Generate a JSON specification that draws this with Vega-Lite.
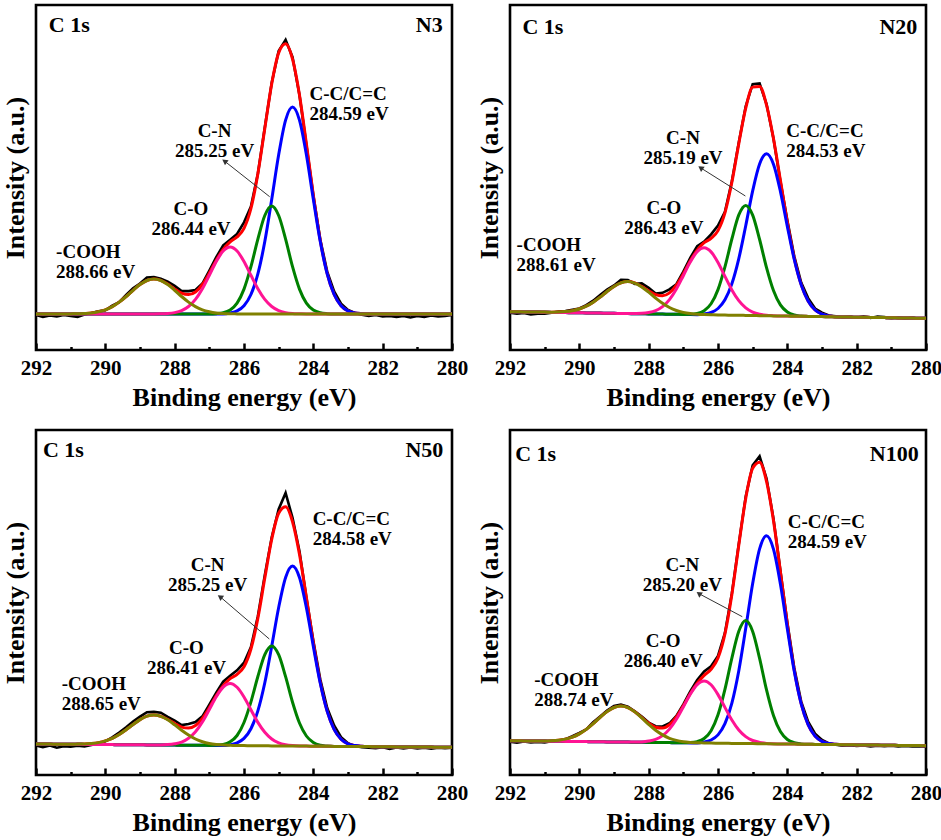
{
  "$schema": "https://vega.github.io/schema/vega-lite/v6.json",
  "padding": {"left": 0, "top": 2, "right": 2, "bottom": 2},
  "background": "white",
  "data": {
    "values": [
      {"p":"N3","e":292,"raw":35,"fit":36,"cc":36,"cn":36,"co":36,"ch":36},
      {"p":"N3","e":291.8,"raw":33,"fit":36,"cc":36,"cn":36,"co":36,"ch":36},
      {"p":"N3","e":291.6,"raw":34.5,"fit":36,"cc":36,"cn":36,"co":36,"ch":36},
      {"p":"N3","e":291.4,"raw":33.5,"fit":36,"cc":36,"cn":36,"co":36,"ch":36},
      {"p":"N3","e":291.2,"raw":35,"fit":36,"cc":36,"cn":36,"co":36,"ch":36},
      {"p":"N3","e":291,"raw":34.1,"fit":36.1,"cc":36,"cn":36,"co":36,"ch":36.1},
      {"p":"N3","e":290.8,"raw":33.2,"fit":36.2,"cc":36,"cn":36,"co":36,"ch":36.2},
      {"p":"N3","e":290.6,"raw":35.5,"fit":36.5,"cc":36,"cn":36,"co":36,"ch":36.5},
      {"p":"N3","e":290.4,"raw":37,"fit":37,"cc":36,"cn":36,"co":36,"ch":37},
      {"p":"N3","e":290.2,"raw":38.7,"fit":38.2,"cc":36,"cn":36,"co":36,"ch":38.2},
      {"p":"N3","e":290,"raw":39.7,"fit":40.2,"cc":36,"cn":36,"co":36,"ch":40.2},
      {"p":"N3","e":289.8,"raw":44.4,"fit":43.4,"cc":36,"cn":36,"co":36,"ch":43.4},
      {"p":"N3","e":289.6,"raw":47.9,"fit":47.9,"cc":36,"cn":36,"co":36,"ch":47.9},
      {"p":"N3","e":289.4,"raw":55,"fit":53.5,"cc":36,"cn":36,"co":36,"ch":53.5},
      {"p":"N3","e":289.2,"raw":61.7,"fit":59.7,"cc":36,"cn":36,"co":36,"ch":59.7},
      {"p":"N3","e":289,"raw":66.4,"fit":65.4,"cc":36,"cn":36,"co":36,"ch":65.4},
      {"p":"N3","e":288.8,"raw":72.5,"fit":69.5,"cc":36,"cn":36,"co":36,"ch":69.5},
      {"p":"N3","e":288.6,"raw":73,"fit":71,"cc":36,"cn":36,"co":36,"ch":71},
      {"p":"N3","e":288.4,"raw":71.2,"fit":69.7,"cc":36,"cn":36,"co":36.2,"ch":69.5},
      {"p":"N3","e":288.2,"raw":68.4,"fit":65.9,"cc":36,"cn":36,"co":36.5,"ch":65.4},
      {"p":"N3","e":288,"raw":64.1,"fit":61.1,"cc":36,"cn":36,"co":37.4,"ch":59.7},
      {"p":"N3","e":287.8,"raw":58.9,"fit":56.9,"cc":36,"cn":36,"co":39.4,"ch":53.5},
      {"p":"N3","e":287.6,"raw":58.9,"fit":55.4,"cc":36,"cn":36,"co":43.5,"ch":47.9},
      {"p":"N3","e":287.4,"raw":60,"fit":58,"cc":36,"cn":36,"co":50.6,"ch":43.4},
      {"p":"N3","e":287.2,"raw":66.5,"fit":65.5,"cc":36,"cn":36,"co":61.3,"ch":40.2},
      {"p":"N3","e":287,"raw":79.4,"fit":76.9,"cc":36,"cn":36,"co":74.7,"ch":38.2},
      {"p":"N3","e":286.8,"raw":92.8,"fit":89.8,"cc":36,"cn":36.3,"co":88.5,"ch":37},
      {"p":"N3","e":286.6,"raw":104.7,"fit":100.7,"cc":36,"cn":37.2,"co":99,"ch":36.5},
      {"p":"N3","e":286.4,"raw":110.2,"fit":108.2,"cc":37,"cn":40,"co":103,"ch":36.2},
      {"p":"N3","e":286.2,"raw":116.1,"fit":113.1,"cc":39.1,"cn":46.9,"co":99,"ch":36.1},
      {"p":"N3","e":286,"raw":127.7,"fit":121.7,"cc":44.3,"cn":60.9,"co":88.5,"ch":36},
      {"p":"N3","e":285.8,"raw":143.5,"fit":141.5,"cc":55.5,"cn":83.3,"co":74.7,"ch":36},
      {"p":"N3","e":285.6,"raw":176.3,"fit":176.3,"cc":76.1,"cn":110.9,"co":61.3,"ch":36},
      {"p":"N3","e":285.4,"raw":222.5,"fit":221.5,"cc":108.4,"cn":134.5,"co":50.6,"ch":36},
      {"p":"N3","e":285.2,"raw":267.2,"fit":266.2,"cc":150.7,"cn":144,"co":43.5,"ch":36},
      {"p":"N3","e":285,"raw":299.1,"fit":297.1,"cc":195.2,"cn":134.5,"co":39.4,"ch":36},
      {"p":"N3","e":284.8,"raw":310.2,"fit":306.2,"cc":229.9,"cn":110.9,"co":37.4,"ch":36},
      {"p":"N3","e":284.6,"raw":292.8,"fit":290.8,"cc":243,"cn":83.3,"co":36.5,"ch":36},
      {"p":"N3","e":284.4,"raw":255,"fit":255,"cc":229.9,"cn":60.9,"co":36.2,"ch":36},
      {"p":"N3","e":284.2,"raw":205.1,"fit":206.1,"cc":195.2,"cn":46.9,"co":36,"ch":36},
      {"p":"N3","e":284,"raw":154.7,"fit":154.7,"cc":150.7,"cn":40,"co":36,"ch":36},
      {"p":"N3","e":283.8,"raw":110.6,"fit":109.6,"cc":108.4,"cn":37.2,"co":36,"ch":36},
      {"p":"N3","e":283.6,"raw":78.4,"fit":76.4,"cc":76.1,"cn":36.3,"co":36,"ch":36},
      {"p":"N3","e":283.4,"raw":58.5,"fit":55.5,"cc":55.5,"cn":36,"co":36,"ch":36},
      {"p":"N3","e":283.2,"raw":46.3,"fit":44.3,"cc":44.3,"cn":36,"co":36,"ch":36},
      {"p":"N3","e":283,"raw":40.1,"fit":39.1,"cc":39.1,"cn":36,"co":36,"ch":36},
      {"p":"N3","e":282.8,"raw":37,"fit":37,"cc":37,"cn":36,"co":36,"ch":36},
      {"p":"N3","e":282.6,"raw":35.3,"fit":36.3,"cc":36.3,"cn":36,"co":36,"ch":36},
      {"p":"N3","e":282.4,"raw":34,"fit":36,"cc":36,"cn":36,"co":36,"ch":36},
      {"p":"N3","e":282.2,"raw":35,"fit":36,"cc":36,"cn":36,"co":36,"ch":36},
      {"p":"N3","e":282,"raw":33.5,"fit":36,"cc":36,"cn":36,"co":36,"ch":36},
      {"p":"N3","e":281.8,"raw":34,"fit":36,"cc":36,"cn":36,"co":36,"ch":36},
      {"p":"N3","e":281.6,"raw":33,"fit":36,"cc":36,"cn":36,"co":36,"ch":36},
      {"p":"N3","e":281.4,"raw":34,"fit":36,"cc":36,"cn":36,"co":36,"ch":36},
      {"p":"N3","e":281.2,"raw":32.5,"fit":36,"cc":36,"cn":36,"co":36,"ch":36},
      {"p":"N3","e":281,"raw":34,"fit":36,"cc":36,"cn":36,"co":36,"ch":36},
      {"p":"N3","e":280.8,"raw":33,"fit":36,"cc":36,"cn":36,"co":36,"ch":36},
      {"p":"N3","e":280.6,"raw":34.5,"fit":36,"cc":36,"cn":36,"co":36,"ch":36},
      {"p":"N3","e":280.4,"raw":33.5,"fit":36,"cc":36,"cn":36,"co":36,"ch":36},
      {"p":"N3","e":280.2,"raw":34,"fit":36,"cc":36,"cn":36,"co":36,"ch":36},
      {"p":"N3","e":280,"raw":35,"fit":36,"cc":36,"cn":36,"co":36,"ch":36},

      {"p":"N20","e":292,"raw":37.3,"fit":38.3,"cc":38.3,"cn":38.3,"co":38.3,"ch":38.3},
      {"p":"N20","e":291.8,"raw":36.2,"fit":38.2,"cc":38.2,"cn":38.2,"co":38.2,"ch":38.2},
      {"p":"N20","e":291.6,"raw":37.1,"fit":38.1,"cc":38.1,"cn":38.1,"co":38.1,"ch":38.1},
      {"p":"N20","e":291.4,"raw":35.5,"fit":38,"cc":38,"cn":38,"co":38,"ch":38},
      {"p":"N20","e":291.2,"raw":36.4,"fit":37.9,"cc":37.9,"cn":37.9,"co":37.9,"ch":37.9},
      {"p":"N20","e":291,"raw":36.4,"fit":37.9,"cc":37.8,"cn":37.8,"co":37.8,"ch":37.9},
      {"p":"N20","e":290.8,"raw":37.3,"fit":37.8,"cc":37.6,"cn":37.6,"co":37.6,"ch":37.8},
      {"p":"N20","e":290.6,"raw":38.4,"fit":37.9,"cc":37.5,"cn":37.5,"co":37.5,"ch":37.9},
      {"p":"N20","e":290.4,"raw":38.9,"fit":38.4,"cc":37.4,"cn":37.4,"co":37.4,"ch":38.4},
      {"p":"N20","e":290.2,"raw":40.3,"fit":39.3,"cc":37.3,"cn":37.3,"co":37.3,"ch":39.3},
      {"p":"N20","e":290,"raw":41.5,"fit":41,"cc":37.2,"cn":37.2,"co":37.2,"ch":41},
      {"p":"N20","e":289.8,"raw":44.8,"fit":43.8,"cc":37.1,"cn":37.1,"co":37.1,"ch":43.8},
      {"p":"N20","e":289.6,"raw":49.3,"fit":47.8,"cc":37,"cn":37,"co":37,"ch":47.8},
      {"p":"N20","e":289.4,"raw":54.9,"fit":52.9,"cc":36.9,"cn":36.9,"co":36.9,"ch":52.9},
      {"p":"N20","e":289.2,"raw":60.5,"fit":58.5,"cc":36.8,"cn":36.8,"co":36.8,"ch":58.5},
      {"p":"N20","e":289,"raw":64.6,"fit":63.6,"cc":36.7,"cn":36.7,"co":36.7,"ch":63.6},
      {"p":"N20","e":288.8,"raw":70.1,"fit":67.1,"cc":36.5,"cn":36.5,"co":36.5,"ch":67.1},
      {"p":"N20","e":288.6,"raw":69.9,"fit":68.4,"cc":36.4,"cn":36.4,"co":36.4,"ch":68.4},
      {"p":"N20","e":288.4,"raw":66.1,"fit":67.1,"cc":36.3,"cn":36.3,"co":36.5,"ch":66.9},
      {"p":"N20","e":288.2,"raw":66.6,"fit":63.6,"cc":36.2,"cn":36.2,"co":36.7,"ch":63.1},
      {"p":"N20","e":288,"raw":62.2,"fit":59.2,"cc":36.1,"cn":36.1,"co":37.5,"ch":57.8},
      {"p":"N20","e":287.8,"raw":56.4,"fit":55.4,"cc":36,"cn":36,"co":39.4,"ch":52},
      {"p":"N20","e":287.6,"raw":57.2,"fit":54.2,"cc":35.9,"cn":35.9,"co":43.4,"ch":46.7},
      {"p":"N20","e":287.4,"raw":60.6,"fit":57.1,"cc":35.8,"cn":35.8,"co":50.4,"ch":42.5},
      {"p":"N20","e":287.2,"raw":65.8,"fit":64.8,"cc":35.7,"cn":35.7,"co":61,"ch":39.5},
      {"p":"N20","e":287,"raw":78.3,"fit":76.3,"cc":35.6,"cn":35.6,"co":74.3,"ch":37.6},
      {"p":"N20","e":286.8,"raw":92.2,"fit":89.2,"cc":35.4,"cn":35.7,"co":87.9,"ch":36.4},
      {"p":"N20","e":286.6,"raw":103.9,"fit":99.9,"cc":35.3,"cn":36.5,"co":98.3,"ch":35.7},
      {"p":"N20","e":286.4,"raw":108.3,"fit":107.3,"cc":36,"cn":39.3,"co":102.2,"ch":35.4},
      {"p":"N20","e":286.2,"raw":115.7,"fit":111.7,"cc":37.5,"cn":46.2,"co":98.1,"ch":35.2},
      {"p":"N20","e":286,"raw":124.4,"fit":119.4,"cc":41.5,"cn":60.4,"co":87.5,"ch":35},
      {"p":"N20","e":285.8,"raw":138.1,"fit":137.1,"cc":50.2,"cn":83.1,"co":73.6,"ch":34.9},
      {"p":"N20","e":285.6,"raw":168.7,"fit":167.7,"cc":66.2,"cn":111,"co":60.1,"ch":34.8},
      {"p":"N20","e":285.4,"raw":207.4,"fit":206.4,"cc":91.4,"cn":135.1,"co":49.3,"ch":34.7},
      {"p":"N20","e":285.2,"raw":243.8,"fit":241.8,"cc":124.3,"cn":144.6,"co":42.1,"ch":34.6},
      {"p":"N20","e":285,"raw":265.9,"fit":262.9,"cc":159.1,"cn":134.9,"co":37.9,"ch":34.5},
      {"p":"N20","e":284.8,"raw":266.6,"fit":263.6,"cc":186,"cn":110.5,"co":35.7,"ch":34.3},
      {"p":"N20","e":284.6,"raw":245.9,"fit":244.9,"cc":196.2,"cn":82.4,"co":34.7,"ch":34.2},
      {"p":"N20","e":284.4,"raw":211.4,"fit":211.4,"cc":185.8,"cn":59.5,"co":34.3,"ch":34.1},
      {"p":"N20","e":284.2,"raw":168.7,"fit":169.7,"cc":158.6,"cn":45.1,"co":34,"ch":34},
      {"p":"N20","e":284,"raw":129.7,"fit":127.7,"cc":123.6,"cn":38,"co":33.9,"ch":33.9},
      {"p":"N20","e":283.8,"raw":93.7,"fit":91.7,"cc":90.5,"cn":35,"co":33.8,"ch":33.8},
      {"p":"N20","e":283.6,"raw":67.4,"fit":65.4,"cc":65.1,"cn":34,"co":33.7,"ch":33.7},
      {"p":"N20","e":283.4,"raw":51.9,"fit":48.9,"cc":48.9,"cn":33.6,"co":33.6,"ch":33.6},
      {"p":"N20","e":283.2,"raw":41.5,"fit":40,"cc":40,"cn":33.5,"co":33.5,"ch":33.5},
      {"p":"N20","e":283,"raw":37.3,"fit":35.8,"cc":35.8,"cn":33.4,"co":33.4,"ch":33.4},
      {"p":"N20","e":282.8,"raw":34.5,"fit":34,"cc":34,"cn":33.2,"co":33.2,"ch":33.2},
      {"p":"N20","e":282.6,"raw":33.8,"fit":33.3,"cc":33.3,"cn":33.1,"co":33.1,"ch":33.1},
      {"p":"N20","e":282.4,"raw":32.5,"fit":33,"cc":33,"cn":33,"co":33,"ch":33},
      {"p":"N20","e":282.2,"raw":33.4,"fit":32.9,"cc":32.9,"cn":32.9,"co":32.9,"ch":32.9},
      {"p":"N20","e":282,"raw":32.3,"fit":32.8,"cc":32.8,"cn":32.8,"co":32.8,"ch":32.8},
      {"p":"N20","e":281.8,"raw":33.7,"fit":32.7,"cc":32.7,"cn":32.7,"co":32.7,"ch":32.7},
      {"p":"N20","e":281.6,"raw":32.1,"fit":32.6,"cc":32.6,"cn":32.6,"co":32.6,"ch":32.6},
      {"p":"N20","e":281.4,"raw":33.5,"fit":32.5,"cc":32.5,"cn":32.5,"co":32.5,"ch":32.5},
      {"p":"N20","e":281.2,"raw":32.9,"fit":32.4,"cc":32.4,"cn":32.4,"co":32.4,"ch":32.4},
      {"p":"N20","e":281,"raw":31.8,"fit":32.3,"cc":32.3,"cn":32.3,"co":32.3,"ch":32.3},
      {"p":"N20","e":280.8,"raw":32.6,"fit":32.1,"cc":32.1,"cn":32.1,"co":32.1,"ch":32.1},
      {"p":"N20","e":280.6,"raw":31.5,"fit":32,"cc":32,"cn":32,"co":32,"ch":32},
      {"p":"N20","e":280.4,"raw":32.4,"fit":31.9,"cc":31.9,"cn":31.9,"co":31.9,"ch":31.9},
      {"p":"N20","e":280.2,"raw":31.3,"fit":31.8,"cc":31.8,"cn":31.8,"co":31.8,"ch":31.8},
      {"p":"N20","e":280,"raw":31.2,"fit":31.7,"cc":31.7,"cn":31.7,"co":31.7,"ch":31.7},

      {"p":"N50","e":292,"raw":29.5,"fit":31,"cc":31,"cn":31,"co":31,"ch":31},
      {"p":"N50","e":291.8,"raw":27.9,"fit":30.9,"cc":30.9,"cn":30.9,"co":30.9,"ch":30.9},
      {"p":"N50","e":291.6,"raw":29.4,"fit":30.9,"cc":30.9,"cn":30.9,"co":30.9,"ch":30.9},
      {"p":"N50","e":291.4,"raw":27.3,"fit":30.8,"cc":30.8,"cn":30.8,"co":30.8,"ch":30.8},
      {"p":"N50","e":291.2,"raw":28.8,"fit":30.8,"cc":30.8,"cn":30.8,"co":30.8,"ch":30.8},
      {"p":"N50","e":291,"raw":28.3,"fit":30.8,"cc":30.7,"cn":30.7,"co":30.7,"ch":30.8},
      {"p":"N50","e":290.8,"raw":29.4,"fit":30.9,"cc":30.7,"cn":30.7,"co":30.7,"ch":30.9},
      {"p":"N50","e":290.6,"raw":28.5,"fit":31,"cc":30.6,"cn":30.6,"co":30.6,"ch":31},
      {"p":"N50","e":290.4,"raw":30,"fit":31.5,"cc":30.6,"cn":30.6,"co":30.6,"ch":31.5},
      {"p":"N50","e":290.2,"raw":31.4,"fit":32.4,"cc":30.5,"cn":30.5,"co":30.5,"ch":32.4},
      {"p":"N50","e":290,"raw":33.6,"fit":34.1,"cc":30.5,"cn":30.5,"co":30.5,"ch":34.1},
      {"p":"N50","e":289.8,"raw":37.7,"fit":36.7,"cc":30.4,"cn":30.4,"co":30.4,"ch":36.7},
      {"p":"N50","e":289.6,"raw":42.5,"fit":40.5,"cc":30.3,"cn":30.3,"co":30.3,"ch":40.5},
      {"p":"N50","e":289.4,"raw":47.8,"fit":45.3,"cc":30.3,"cn":30.3,"co":30.3,"ch":45.3},
      {"p":"N50","e":289.2,"raw":53.5,"fit":50.5,"cc":30.2,"cn":30.2,"co":30.2,"ch":50.5},
      {"p":"N50","e":289,"raw":58.4,"fit":55.4,"cc":30.2,"cn":30.2,"co":30.2,"ch":55.4},
      {"p":"N50","e":288.8,"raw":62.8,"fit":58.8,"cc":30.1,"cn":30.1,"co":30.1,"ch":58.8},
      {"p":"N50","e":288.6,"raw":63.1,"fit":60.1,"cc":30.1,"cn":30.1,"co":30.1,"ch":60.1},
      {"p":"N50","e":288.4,"raw":62.3,"fit":58.8,"cc":30,"cn":30,"co":30.1,"ch":58.7},
      {"p":"N50","e":288.2,"raw":58.1,"fit":55.6,"cc":30,"cn":30,"co":30.4,"ch":55.2},
      {"p":"N50","e":288,"raw":54.5,"fit":51.5,"cc":29.9,"cn":29.9,"co":31.2,"ch":50.2},
      {"p":"N50","e":287.8,"raw":49.9,"fit":47.9,"cc":29.8,"cn":29.8,"co":32.9,"ch":44.8},
      {"p":"N50","e":287.6,"raw":50.9,"fit":46.9,"cc":29.8,"cn":29.8,"co":36.7,"ch":40},
      {"p":"N50","e":287.4,"raw":53,"fit":49.5,"cc":29.7,"cn":29.7,"co":43.2,"ch":36},
      {"p":"N50","e":287.2,"raw":58.7,"fit":56.7,"cc":29.7,"cn":29.7,"co":53.1,"ch":33.3},
      {"p":"N50","e":287,"raw":70.4,"fit":67.4,"cc":29.6,"cn":29.6,"co":65.5,"ch":31.5},
      {"p":"N50","e":286.8,"raw":82.4,"fit":79.4,"cc":29.6,"cn":29.9,"co":78.2,"ch":30.5},
      {"p":"N50","e":286.6,"raw":93.3,"fit":89.3,"cc":29.5,"cn":30.6,"co":87.8,"ch":29.9},
      {"p":"N50","e":286.4,"raw":99.3,"fit":96.3,"cc":30.4,"cn":33.2,"co":91.5,"ch":29.7},
      {"p":"N50","e":286.2,"raw":104.6,"fit":100.6,"cc":32.1,"cn":39.5,"co":87.7,"ch":29.5},
      {"p":"N50","e":286,"raw":112.3,"fit":108.3,"cc":36.6,"cn":52.5,"co":78,"ch":29.4},
      {"p":"N50","e":285.8,"raw":128,"fit":126,"cc":46.3,"cn":73.1,"co":65.2,"ch":29.3},
      {"p":"N50","e":285.6,"raw":158.8,"fit":156.8,"cc":64.1,"cn":98.5,"co":52.6,"ch":29.2},
      {"p":"N50","e":285.4,"raw":199.9,"fit":196.9,"cc":92.2,"cn":120.4,"co":42.7,"ch":29.2},
      {"p":"N50","e":285.2,"raw":237.7,"fit":235.7,"cc":128.8,"cn":129.1,"co":36,"ch":29.1},
      {"p":"N50","e":285,"raw":265.8,"fit":261.8,"cc":167.5,"cn":120.3,"co":32.2,"ch":29.1},
      {"p":"N50","e":284.8,"raw":282,"fit":268.2,"cc":197.6,"cn":98.3,"co":30.3,"ch":29},
      {"p":"N50","e":284.6,"raw":257.2,"fit":253.2,"cc":209,"cn":72.8,"co":29.4,"ch":29},
      {"p":"N50","e":284.4,"raw":223.7,"fit":220.7,"cc":197.5,"cn":52,"co":29,"ch":28.9},
      {"p":"N50","e":284.2,"raw":177.4,"fit":177.4,"cc":167.3,"cn":39,"co":28.9,"ch":28.9},
      {"p":"N50","e":284,"raw":134.2,"fit":132.2,"cc":128.5,"cn":32.5,"co":28.8,"ch":28.8},
      {"p":"N50","e":283.8,"raw":95.8,"fit":92.8,"cc":91.7,"cn":29.8,"co":28.7,"ch":28.7},
      {"p":"N50","e":283.6,"raw":66.9,"fit":63.9,"cc":63.6,"cn":29,"co":28.7,"ch":28.7},
      {"p":"N50","e":283.4,"raw":49.6,"fit":45.6,"cc":45.6,"cn":28.6,"co":28.6,"ch":28.6},
      {"p":"N50","e":283.2,"raw":37.8,"fit":35.8,"cc":35.8,"cn":28.6,"co":28.6,"ch":28.6},
      {"p":"N50","e":283,"raw":31.7,"fit":31.2,"cc":31.2,"cn":28.5,"co":28.5,"ch":28.5},
      {"p":"N50","e":282.8,"raw":28.9,"fit":29.4,"cc":29.4,"cn":28.5,"co":28.5,"ch":28.5},
      {"p":"N50","e":282.6,"raw":27.7,"fit":28.7,"cc":28.7,"cn":28.4,"co":28.4,"ch":28.4},
      {"p":"N50","e":282.4,"raw":27.4,"fit":28.4,"cc":28.4,"cn":28.4,"co":28.4,"ch":28.4},
      {"p":"N50","e":282.2,"raw":26.8,"fit":28.3,"cc":28.3,"cn":28.3,"co":28.3,"ch":28.3},
      {"p":"N50","e":282,"raw":27.8,"fit":28.3,"cc":28.3,"cn":28.3,"co":28.3,"ch":28.3},
      {"p":"N50","e":281.8,"raw":26.2,"fit":28.2,"cc":28.2,"cn":28.2,"co":28.2,"ch":28.2},
      {"p":"N50","e":281.6,"raw":27.6,"fit":28.1,"cc":28.1,"cn":28.1,"co":28.1,"ch":28.1},
      {"p":"N50","e":281.4,"raw":26.6,"fit":28.1,"cc":28.1,"cn":28.1,"co":28.1,"ch":28.1},
      {"p":"N50","e":281.2,"raw":27.5,"fit":28,"cc":28,"cn":28,"co":28,"ch":28},
      {"p":"N50","e":281,"raw":26.5,"fit":28,"cc":28,"cn":28,"co":28,"ch":28},
      {"p":"N50","e":280.8,"raw":27.4,"fit":27.9,"cc":27.9,"cn":27.9,"co":27.9,"ch":27.9},
      {"p":"N50","e":280.6,"raw":26.4,"fit":27.9,"cc":27.9,"cn":27.9,"co":27.9,"ch":27.9},
      {"p":"N50","e":280.4,"raw":27.3,"fit":27.8,"cc":27.8,"cn":27.8,"co":27.8,"ch":27.8},
      {"p":"N50","e":280.2,"raw":26.8,"fit":27.8,"cc":27.8,"cn":27.8,"co":27.8,"ch":27.8},
      {"p":"N50","e":280,"raw":27.2,"fit":27.7,"cc":27.7,"cn":27.7,"co":27.7,"ch":27.7},

      {"p":"N100","e":292,"raw":33.3,"fit":34.3,"cc":34.3,"cn":34.3,"co":34.3,"ch":34.3},
      {"p":"N100","e":291.8,"raw":32.2,"fit":34.2,"cc":34.2,"cn":34.2,"co":34.2,"ch":34.2},
      {"p":"N100","e":291.6,"raw":33.6,"fit":34.1,"cc":34.1,"cn":34.1,"co":34.1,"ch":34.1},
      {"p":"N100","e":291.4,"raw":32.5,"fit":34,"cc":34,"cn":34,"co":34,"ch":34},
      {"p":"N100","e":291.2,"raw":33.1,"fit":34.1,"cc":34,"cn":34,"co":34,"ch":34.1},
      {"p":"N100","e":291,"raw":32.6,"fit":34.1,"cc":33.9,"cn":33.9,"co":33.9,"ch":34.1},
      {"p":"N100","e":290.8,"raw":33.8,"fit":34.3,"cc":33.8,"cn":33.8,"co":33.8,"ch":34.3},
      {"p":"N100","e":290.6,"raw":34.3,"fit":34.8,"cc":33.7,"cn":33.7,"co":33.7,"ch":34.8},
      {"p":"N100","e":290.4,"raw":35.9,"fit":35.9,"cc":33.6,"cn":33.6,"co":33.6,"ch":35.9},
      {"p":"N100","e":290.2,"raw":38.8,"fit":37.8,"cc":33.5,"cn":33.5,"co":33.5,"ch":37.8},
      {"p":"N100","e":290,"raw":42.1,"fit":41.1,"cc":33.5,"cn":33.5,"co":33.5,"ch":41.1},
      {"p":"N100","e":289.8,"raw":45.6,"fit":45.6,"cc":33.4,"cn":33.4,"co":33.4,"ch":45.6},
      {"p":"N100","e":289.6,"raw":52.8,"fit":51.3,"cc":33.3,"cn":33.3,"co":33.3,"ch":51.3},
      {"p":"N100","e":289.4,"raw":58.6,"fit":57.6,"cc":33.2,"cn":33.2,"co":33.2,"ch":57.6},
      {"p":"N100","e":289.2,"raw":64.4,"fit":63.4,"cc":33.1,"cn":33.1,"co":33.1,"ch":63.4},
      {"p":"N100","e":289,"raw":69,"fit":67.5,"cc":33,"cn":33,"co":33,"ch":67.5},
      {"p":"N100","e":288.8,"raw":70.5,"fit":69,"cc":33,"cn":33,"co":33,"ch":69},
      {"p":"N100","e":288.6,"raw":68.4,"fit":67.4,"cc":32.9,"cn":32.9,"co":32.9,"ch":67.4},
      {"p":"N100","e":288.4,"raw":63.7,"fit":63.2,"cc":32.8,"cn":32.8,"co":32.9,"ch":63.1},
      {"p":"N100","e":288.2,"raw":58.5,"fit":57.5,"cc":32.7,"cn":32.7,"co":33.1,"ch":57.1},
      {"p":"N100","e":288,"raw":52.4,"fit":51.9,"cc":32.6,"cn":32.6,"co":33.9,"ch":50.6},
      {"p":"N100","e":287.8,"raw":48.8,"fit":47.8,"cc":32.5,"cn":32.5,"co":35.6,"ch":44.7},
      {"p":"N100","e":287.6,"raw":48.5,"fit":47,"cc":32.5,"cn":32.5,"co":39.4,"ch":40.1},
      {"p":"N100","e":287.4,"raw":51.7,"fit":50.2,"cc":32.4,"cn":32.4,"co":45.9,"ch":36.7},
      {"p":"N100","e":287.2,"raw":59,"fit":58,"cc":32.3,"cn":32.3,"co":55.7,"ch":34.6},
      {"p":"N100","e":287,"raw":70.7,"fit":69.2,"cc":32.2,"cn":32.2,"co":68.1,"ch":33.3},
      {"p":"N100","e":286.8,"raw":83.5,"fit":81.5,"cc":32.1,"cn":32.4,"co":80.7,"ch":32.6},
      {"p":"N100","e":286.6,"raw":94.9,"fit":91.9,"cc":32,"cn":33.4,"co":90.3,"ch":32.2},
      {"p":"N100","e":286.4,"raw":103.6,"fit":99.6,"cc":33,"cn":36.5,"co":94,"ch":32.1},
      {"p":"N100","e":286.2,"raw":108.7,"fit":105.7,"cc":35,"cn":44.3,"co":90.2,"ch":31.9},
      {"p":"N100","e":286,"raw":119.1,"fit":117.1,"cc":40.1,"cn":60.2,"co":80.4,"ch":31.8},
      {"p":"N100","e":285.8,"raw":142.1,"fit":141.1,"cc":51.3,"cn":85.6,"co":67.6,"ch":31.7},
      {"p":"N100","e":285.6,"raw":181.6,"fit":180.6,"cc":71.9,"cn":116.9,"co":55,"ch":31.6},
      {"p":"N100","e":285.4,"raw":231,"fit":230,"cc":104.3,"cn":143.7,"co":45,"ch":31.5},
      {"p":"N100","e":285.2,"raw":278.6,"fit":276.6,"cc":146.7,"cn":154.5,"co":38.4,"ch":31.5},
      {"p":"N100","e":285,"raw":309.7,"fit":306.7,"cc":191.4,"cn":143.6,"co":34.5,"ch":31.4},
      {"p":"N100","e":284.8,"raw":318.7,"fit":312.7,"cc":226.1,"cn":116.6,"co":32.6,"ch":31.3},
      {"p":"N100","e":284.6,"raw":296.5,"fit":293.5,"cc":239.2,"cn":85.1,"co":31.6,"ch":31.2},
      {"p":"N100","e":284.4,"raw":256.4,"fit":254.4,"cc":225.9,"cn":59.5,"co":31.2,"ch":31.1},
      {"p":"N100","e":284.2,"raw":204.4,"fit":203.4,"cc":191,"cn":43.4,"co":31,"ch":31},
      {"p":"N100","e":284,"raw":152.7,"fit":150.7,"cc":146.2,"cn":35.5,"co":31,"ch":31},
      {"p":"N100","e":283.8,"raw":107.1,"fit":105.1,"cc":103.7,"cn":32.3,"co":30.9,"ch":30.9},
      {"p":"N100","e":283.6,"raw":73.4,"fit":71.4,"cc":71.1,"cn":31.1,"co":30.8,"ch":30.8},
      {"p":"N100","e":283.4,"raw":53.3,"fit":50.3,"cc":50.3,"cn":30.7,"co":30.7,"ch":30.7},
      {"p":"N100","e":283.2,"raw":41.4,"fit":38.9,"cc":38.9,"cn":30.6,"co":30.6,"ch":30.6},
      {"p":"N100","e":283,"raw":35.1,"fit":33.6,"cc":33.6,"cn":30.5,"co":30.5,"ch":30.5},
      {"p":"N100","e":282.8,"raw":31.5,"fit":31.5,"cc":31.5,"cn":30.5,"co":30.5,"ch":30.5},
      {"p":"N100","e":282.6,"raw":30.2,"fit":30.7,"cc":30.7,"cn":30.4,"co":30.4,"ch":30.4},
      {"p":"N100","e":282.4,"raw":29.3,"fit":30.3,"cc":30.3,"cn":30.3,"co":30.3,"ch":30.3},
      {"p":"N100","e":282.2,"raw":29.7,"fit":30.2,"cc":30.2,"cn":30.2,"co":30.2,"ch":30.2},
      {"p":"N100","e":282,"raw":29.1,"fit":30.1,"cc":30.1,"cn":30.1,"co":30.1,"ch":30.1},
      {"p":"N100","e":281.8,"raw":29.5,"fit":30,"cc":30,"cn":30,"co":30,"ch":30},
      {"p":"N100","e":281.6,"raw":28.5,"fit":30,"cc":30,"cn":30,"co":30,"ch":30},
      {"p":"N100","e":281.4,"raw":29.4,"fit":29.9,"cc":29.9,"cn":29.9,"co":29.9,"ch":29.9},
      {"p":"N100","e":281.2,"raw":28.8,"fit":29.8,"cc":29.8,"cn":29.8,"co":29.8,"ch":29.8},
      {"p":"N100","e":281,"raw":29.2,"fit":29.7,"cc":29.7,"cn":29.7,"co":29.7,"ch":29.7},
      {"p":"N100","e":280.8,"raw":28.6,"fit":29.6,"cc":29.6,"cn":29.6,"co":29.6,"ch":29.6},
      {"p":"N100","e":280.6,"raw":29,"fit":29.5,"cc":29.5,"cn":29.5,"co":29.5,"ch":29.5},
      {"p":"N100","e":280.4,"raw":28.5,"fit":29.5,"cc":29.5,"cn":29.5,"co":29.5,"ch":29.5},
      {"p":"N100","e":280.2,"raw":28.9,"fit":29.4,"cc":29.4,"cn":29.4,"co":29.4,"ch":29.4},
      {"p":"N100","e":280,"raw":28.3,"fit":29.3,"cc":29.3,"cn":29.3,"co":29.3,"ch":29.3},

      {"p":"N3","role":"head","e":291.63,"y":318,"t":"C 1s"},
      {"p":"N3","role":"sample","e":280.27,"y":318,"t":"N3"},
      {"p":"N3","role":"cc","e":284.11,"y":250,"t":"C-C/C=C\n284.59 eV"},
      {"p":"N3","role":"cn","e":286.85,"y":213,"t":"C-N\n285.25 eV"},
      {"p":"N3","role":"co","e":287.53,"y":135,"t":"C-O\n286.44 eV"},
      {"p":"N3","role":"ch","e":291.42,"y":92,"t":"-COOH\n288.66 eV"},
      {"p":"N3","role":"arrow","e":285.26,"y":153.3,"e2":286.54,"y2":188.3},

      {"p":"N20","role":"head","e":291.64,"y":316,"t":"C 1s"},
      {"p":"N20","role":"sample","e":280.25,"y":316,"t":"N20"},
      {"p":"N20","role":"cc","e":284.03,"y":212.7,"t":"C-C/C=C\n284.53 eV"},
      {"p":"N20","role":"cn","e":287.01,"y":206,"t":"C-N\n285.19 eV"},
      {"p":"N20","role":"co","e":287.56,"y":136,"t":"C-O\n286.43 eV"},
      {"p":"N20","role":"ch","e":291.81,"y":99.3,"t":"-COOH\n288.61 eV"},
      {"p":"N20","role":"arrow","e":285.21,"y":154,"e2":286.48,"y2":181.7},

      {"p":"N50","role":"head","e":291.8,"y":318,"t":"C 1s"},
      {"p":"N50","role":"sample","e":280.25,"y":318,"t":"N50"},
      {"p":"N50","role":"cc","e":284.02,"y":250.3,"t":"C-C/C=C\n284.58 eV"},
      {"p":"N50","role":"cn","e":287.05,"y":203.7,"t":"C-N\n285.25 eV"},
      {"p":"N50","role":"co","e":287.66,"y":121,"t":"C-O\n286.41 eV"},
      {"p":"N50","role":"ch","e":291.26,"y":85,"t":"-COOH\n288.65 eV"},
      {"p":"N50","role":"arrow","e":285.27,"y":136,"e2":286.67,"y2":177.7},

      {"p":"N100","role":"head","e":291.85,"y":314,"t":"C 1s"},
      {"p":"N100","role":"sample","e":280.21,"y":314,"t":"N100"},
      {"p":"N100","role":"cc","e":283.99,"y":247,"t":"C-C/C=C\n284.59 eV"},
      {"p":"N100","role":"cn","e":287.03,"y":203.7,"t":"C-N\n285.20 eV"},
      {"p":"N100","role":"co","e":287.58,"y":128.3,"t":"C-O\n286.40 eV"},
      {"p":"N100","role":"ch","e":291.3,"y":89.3,"t":"-COOH\n288.74 eV"},
      {"p":"N100","role":"arrow","e":285.3,"y":158.3,"e2":286.53,"y2":181}
    ]
  },
  "facet": {"field": "p", "type": "nominal", "sort": ["N3", "N20", "N50", "N100"], "title": null, "header": {"labels": false, "title": null, "labelExpr": "''", "labelFontSize": 1, "labelPadding": 0, "titlePadding": 0}},
  "columns": 2,
  "spacing": {"row": 80, "column": 58},
  "bounds": "flush",
  "resolve": {"axis": {"x": "independent", "y": "independent"}},
  "spec": {
    "width": 416,
    "height": 345,
    "encoding": {
      "x": {
        "field": "e",
        "type": "quantitative",
        "scale": {"domain": [280, 292], "reverse": true, "nice": false, "zero": false},
        "axis": {
          "title": "Binding energy (eV)",
          "values": [280, 281, 282, 283, 284, 285, 286, 287, 288, 289, 290, 291, 292],
          "labelExpr": "datum.value % 2 ? '' : datum.label",
          "tickSize": {"condition": {"test": "datum.value % 2", "value": -3.5}, "value": -7}
        }
      }
    },
    "layer": [
      {
        "transform": [{"filter": "isValid(datum.raw)"}],
        "mark": {"type": "line", "color": "black", "strokeWidth": 2.6},
        "encoding": {"y": {"field": "raw", "type": "quantitative", "scale": {"domain": [0, 345], "nice": false, "zero": false}, "axis": {"title": "Intensity (a.u.)"}}}
      },
      {
        "transform": [{"filter": "isValid(datum.fit)"}],
        "mark": {"type": "line", "color": "#ff0000", "strokeWidth": 3, "interpolate": "monotone"},
        "encoding": {"y": {"field": "fit", "type": "quantitative", "scale": {"domain": [0, 345], "nice": false, "zero": false}, "axis": {"title": "Intensity (a.u.)"}}}
      },
      {
        "transform": [{"filter": "isValid(datum.cc)"}],
        "mark": {"type": "line", "color": "#0000ff", "strokeWidth": 3, "interpolate": "monotone"},
        "encoding": {"y": {"field": "cc", "type": "quantitative", "scale": {"domain": [0, 345], "nice": false, "zero": false}, "axis": {"title": "Intensity (a.u.)"}}}
      },
      {
        "transform": [{"filter": "isValid(datum.cn)"}],
        "mark": {"type": "line", "color": "#008000", "strokeWidth": 3, "interpolate": "monotone"},
        "encoding": {"y": {"field": "cn", "type": "quantitative", "scale": {"domain": [0, 345], "nice": false, "zero": false}, "axis": {"title": "Intensity (a.u.)"}}}
      },
      {
        "transform": [{"filter": "isValid(datum.co)"}],
        "mark": {"type": "line", "color": "#ff1493", "strokeWidth": 3, "interpolate": "monotone"},
        "encoding": {"y": {"field": "co", "type": "quantitative", "scale": {"domain": [0, 345], "nice": false, "zero": false}, "axis": {"title": "Intensity (a.u.)"}}}
      },
      {
        "transform": [{"filter": "isValid(datum.ch)"}],
        "mark": {"type": "line", "color": "#808000", "strokeWidth": 3, "interpolate": "monotone"},
        "encoding": {"y": {"field": "ch", "type": "quantitative", "scale": {"domain": [0, 345], "nice": false, "zero": false}, "axis": {"title": "Intensity (a.u.)"}}}
      },
      {
        "transform": [{"filter": "datum.role == 'arrow'"}],
        "mark": {"type": "rule", "color": "#333333", "strokeWidth": 1},
        "encoding": {
          "y": {"field": "y", "type": "quantitative", "scale": {"domain": [0, 345], "nice": false, "zero": false}, "axis": {"title": "Intensity (a.u.)"}},
          "x2": {"field": "e2"},
          "y2": {"field": "y2"}
        }
      },
      {
        "transform": [{"filter": "datum.role == 'arrow'"}],
        "mark": {"type": "point", "shape": "triangle", "filled": true, "color": "#333333", "opacity": 1, "size": 40, "angle": 305},
        "encoding": {
          "x": {"field": "e2", "type": "quantitative"},
          "y": {"field": "y2", "type": "quantitative", "scale": {"domain": [0, 345], "nice": false, "zero": false}, "axis": {"title": "Intensity (a.u.)"}}
        }
      },
      {
        "transform": [{"filter": "datum.role == 'cc' || datum.role == 'ch'"}],
        "mark": {"type": "text", "align": "left", "baseline": "alphabetic", "fontSize": 19, "lineHeight": 20, "lineBreak": "\n"},
        "encoding": {
          "y": {"field": "y", "type": "quantitative", "scale": {"domain": [0, 345], "nice": false, "zero": false}, "axis": {"title": "Intensity (a.u.)"}},
          "text": {"field": "t"}
        }
      },
      {
        "transform": [{"filter": "datum.role == 'cn' || datum.role == 'co'"}],
        "mark": {"type": "text", "align": "center", "baseline": "alphabetic", "fontSize": 19, "lineHeight": 20, "lineBreak": "\n"},
        "encoding": {
          "y": {"field": "y", "type": "quantitative", "scale": {"domain": [0, 345], "nice": false, "zero": false}, "axis": {"title": "Intensity (a.u.)"}},
          "text": {"field": "t"}
        }
      },
      {
        "transform": [{"filter": "datum.role == 'head'"}],
        "mark": {"type": "text", "align": "left", "baseline": "alphabetic", "fontSize": 22},
        "encoding": {
          "y": {"field": "y", "type": "quantitative", "scale": {"domain": [0, 345], "nice": false, "zero": false}, "axis": {"title": "Intensity (a.u.)"}},
          "text": {"field": "t"}
        }
      },
      {
        "transform": [{"filter": "datum.role == 'sample'"}],
        "mark": {"type": "text", "align": "right", "baseline": "alphabetic", "fontSize": 22},
        "encoding": {
          "y": {"field": "y", "type": "quantitative", "scale": {"domain": [0, 345], "nice": false, "zero": false}, "axis": {"title": "Intensity (a.u.)"}},
          "text": {"field": "t"}
        }
      }
    ]
  },
  "config": {
    "view": {"stroke": "black", "strokeWidth": 2.6},
    "font": "Liberation Serif",
    "header": {"labels": false, "title": null, "labelExpr": "''", "labelFontSize": 1, "labelPadding": 0},
    "text": {"font": "Liberation Serif", "fontWeight": "bold", "color": "black"},
    "axisX": {
      "grid": false,
      "domain": false,
      "tickColor": "black",
      "tickWidth": 2.5,
      "labelFont": "Liberation Serif",
      "labelFontSize": 21,
      "labelFontWeight": "bold",
      "labelColor": "black",
      "labelPadding": 14,
      "labelFlush": false,
      "labelOverlap": false,
      "titleFont": "Liberation Serif",
      "titleFontSize": 26,
      "titleFontWeight": "bold",
      "titleColor": "black",
      "titlePadding": 3
    },
    "axisY": {
      "grid": false,
      "domain": false,
      "ticks": false,
      "labels": false,
      "titleFont": "Liberation Serif",
      "titleFontSize": 26,
      "titleFontWeight": "bold",
      "titleColor": "black",
      "titlePadding": 8
    }
  }
}
